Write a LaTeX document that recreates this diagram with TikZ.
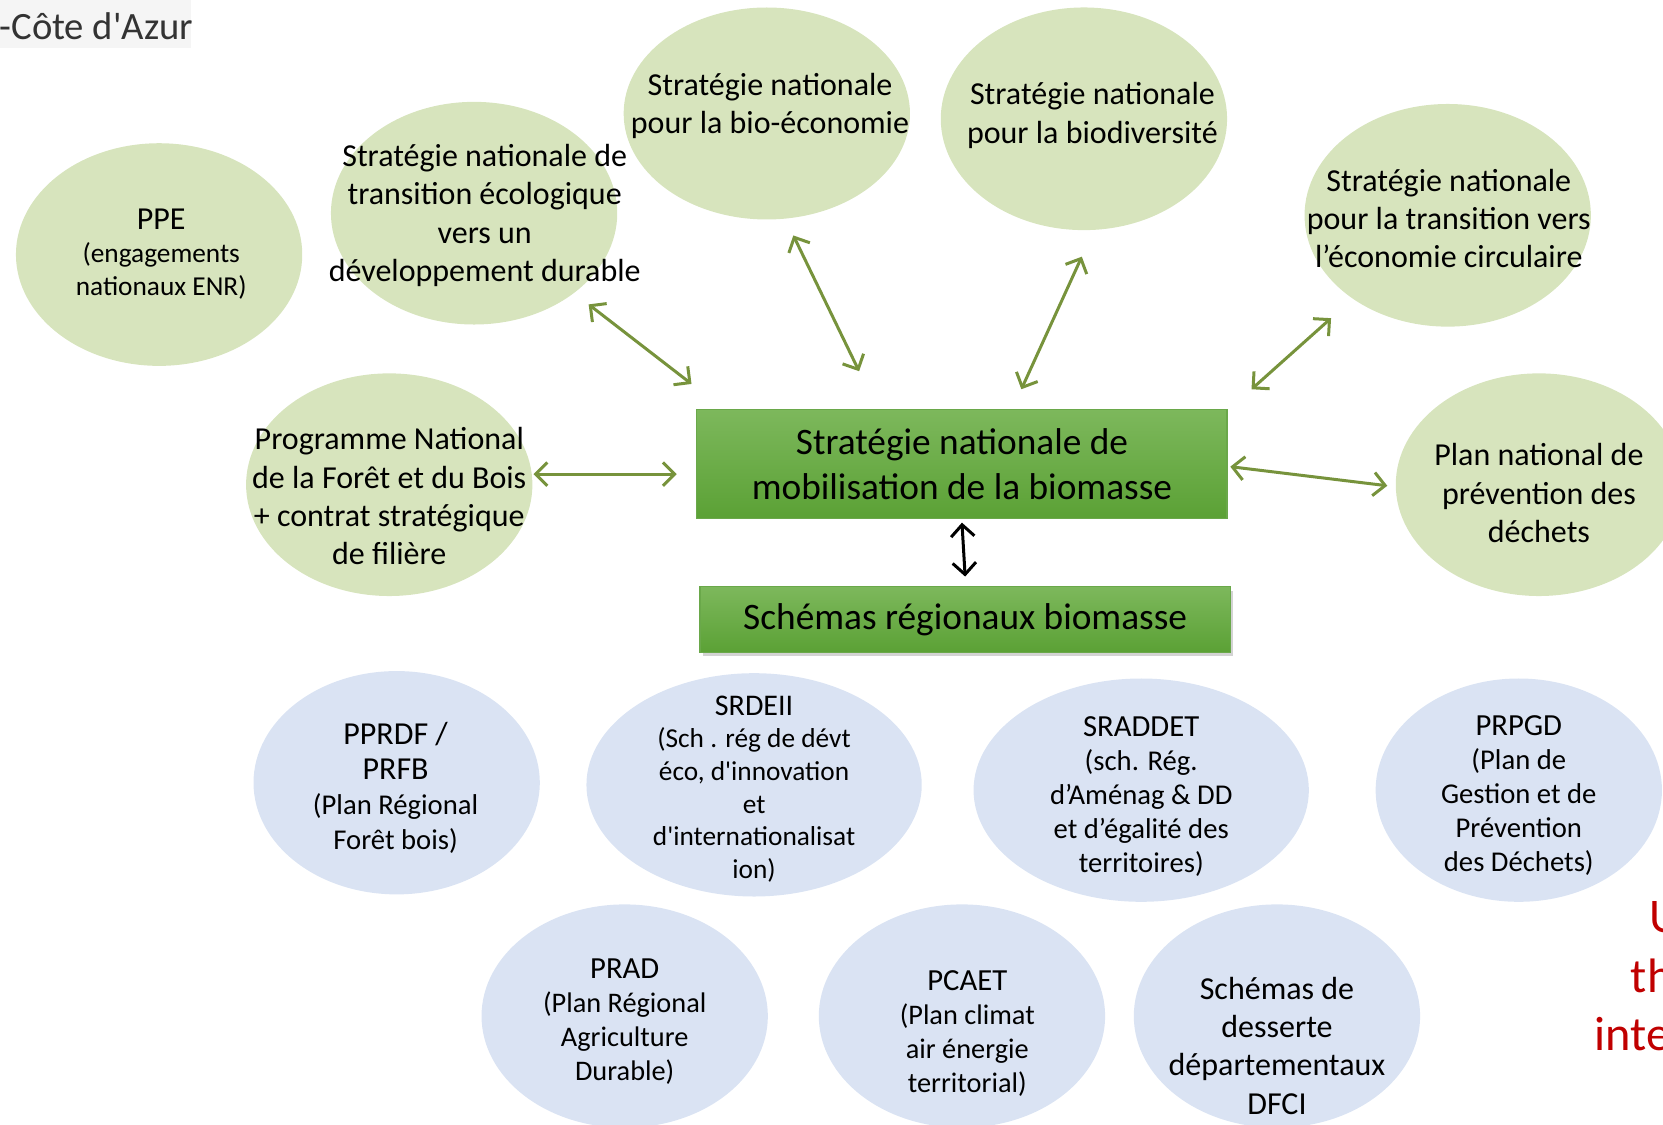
\documentclass[tikz,border=0pt]{standalone}
\usepackage{fontspec}
\setmainfont{Carlito}
\usetikzlibrary{shapes,positioning,arrows.meta,shadows}
\definecolor{leaf}{HTML}{D7E4BD}
\definecolor{sky}{HTML}{DAE3F3}
\definecolor{olive}{HTML}{77933C}
\definecolor{boxtop}{HTML}{7DB85C}
\definecolor{boxbot}{HTML}{5BA135}
\definecolor{boxline}{HTML}{6AA84A}
\definecolor{alert}{HTML}{C00000}

\begin{document}
\begin{tikzpicture}[x=0.3182pt, y=-0.3182pt,
  natl/.style={ellipse, fill=leaf, inner sep=0pt, minimum width=85.9pt, minimum height=66.8pt},
  regl/.style={ellipse, fill=sky, inner sep=0pt, minimum width=85.9pt, minimum height=67pt},
  wide/.style={minimum width=100.6pt},
  txt/.style={align=center, inner sep=0pt, font=\fontsize{9.6}{11.5}\selectfont},
  mainbox/.style={rectangle, draw=boxline, top color=boxtop, bottom color=boxbot, inner sep=0pt,
    align=center, minimum width=159.1pt, font=\fontsize{11.2}{13.4}\selectfont},
  link/.style={olive, line width=0.9pt, {Straight Barb[length=3.5pt,width=7pt]}-{Straight Barb[length=3.5pt,width=7pt]}}]
  \useasboundingbox (0,0) rectangle (1568,1060);

  % corner title
  \fill [black!4] (0,0) rectangle (180,45);
  \node [anchor=west, inner sep=0pt, text=black!80, font=\fontsize{11.6}{13}\selectfont] (region) at (-1,25) {-Côte d\textquotesingle Azur};

  % national level
  \node [natl] (ppe) at (150,240) {};
  \node [txt, font=\fontsize{8.2}{9.9}\selectfont] (ppe-t) at (152,240) {{\fontsize{9.6}{11.5}\selectfont PPE}\\(engagements\\nationaux ENR)};
  \node [natl] (sntedd) at (447,201) {};
  \node [txt] (sntedd-t) at (457,203) {Stratégie nationale de\\transition écologique\\vers un\\développement durable};
  \node [natl, minimum height=63.6pt] (bioeco) at (723,107) {};
  \node [txt] (bioeco-t) at (726,100) {Stratégie nationale\\pour la bio-économie};
  \node [natl] (biodiv) at (1022,112) {};
  \node [txt] (biodiv-t) at (1030,109) {Stratégie nationale\\pour la biodiversité};
  \node [natl] (circ) at (1365,203) {};
  \node [txt] (circ-t) at (1366,206) {Stratégie nationale\\pour la transition vers\\l’économie circulaire};
  \node [natl] (pnfb) at (367,457) {};
  \node [txt] (pnfb-t) at (367,468) {Programme National\\de la Forêt et du Bois\\+ contrat stratégique\\de filière};
  \node [natl] (pnpd) at (1451,457) {};
  \node [txt] (pnpd-t) at (1451,465) {Plan national de\\prévention des\\déchets};

  % central boxes
  \node [mainbox, minimum height=32.8pt] (hub) at (907,437.5) {Stratégie nationale de\\mobilisation de la biomasse};
  \node [mainbox, minimum height=19.7pt, drop shadow={opacity=0.35, shadow xshift=0.8pt, shadow yshift=-1.2pt}] (srb) at (910,584) {\raisebox{-1pt}{Schémas régionaux biomasse}};

  % arrow ends
  \coordinate (sntedd-a) at (555,287);   \coordinate (hub-a) at (652,362);
  \coordinate (bioeco-a) at (748,222);   \coordinate (hub-b) at (810,350);
  \coordinate (biodiv-a) at (1020,242);  \coordinate (hub-c) at (963,367);
  \coordinate (circ-a) at (1255,300);    \coordinate (hub-d) at (1180,367);
  \coordinate (pnfb-a) at (503,447);     \coordinate (hub-e) at (638,447);
  \coordinate (hub-f) at (1160,440);     \coordinate (pnpd-a) at (1308,458);

  \draw [link] (sntedd-a) -- (hub-a);
  \draw [link] (bioeco-a) -- (hub-b);
  \draw [link] (biodiv-a) -- (hub-c);
  \draw [link] (circ-a) -- (hub-d);
  \draw [link] (pnfb-a) -- (hub-e);
  \draw [link] (hub-f) -- (pnpd-a);
  \draw [black, line width=0.9pt, {Straight Barb[length=3.5pt,width=7pt]}-{Straight Barb[length=3.5pt,width=7pt]}]
    ([yshift=-1pt]hub.south) -- ([yshift=2.8pt]srb.north);

  % regional level
  \node [regl] (pprdf) at (374,738) {};
  \node [txt, font=\fontsize{8.6}{10.5}\selectfont] (pprdf-t) at (373,743) {{\fontsize{9.6}{11.5}\selectfont PPRDF /}\\{\fontsize{9.6}{11.5}\selectfont PRFB}\\(Plan Régional\\Forêt bois)};
  \node [regl, wide] (srdeii) at (711,740) {};
  \node [txt, font=\fontsize{8.2}{9.8}\selectfont] (srdeii-t) at (711,744) {{\fontsize{9}{9.8}\selectfont SRDEII}\\(Sch . rég de dévt\\éco, d\textquotesingle innovation\\et\\d\textquotesingle internationalisat\\ion)};
  \node [regl, wide] (sraddet) at (1076,745) {};
  \node [txt, font=\fontsize{8.6}{10.2}\selectfont] (sraddet-t) at (1076,751) {{\fontsize{9.2}{10.2}\selectfont SRADDET}\\(sch. Rég.\\d’Aménag \& DD\\et d’égalité des\\territoires)};
  \node [regl] (prpgd) at (1432,745) {};
  \node [txt, font=\fontsize{8.6}{10.2}\selectfont] (prpgd-t) at (1432,750) {{\fontsize{9.2}{10.2}\selectfont PRPGD}\\(Plan de\\Gestion et de\\Prévention\\des Déchets)};
  \node [regl] (prad) at (589,958) {};
  \node [txt, font=\fontsize{8.5}{10.2}\selectfont] (prad-t) at (589,963) {{\fontsize{9.2}{10.2}\selectfont PRAD}\\(Plan Régional\\Agriculture\\Durable)};
  \node [regl] (pcaet) at (907,958) {};
  \node [txt, font=\fontsize{8.5}{10.2}\selectfont] (pcaet-t) at (912,974) {{\fontsize{9.2}{10.2}\selectfont PCAET}\\(Plan climat\\air énergie\\territorial)};
  \node [regl] (dfci) at (1204,958) {};
  \node [txt] (dfci-t) at (1204,986) {Schémas de\\desserte\\départementaux\\DFCI};

  % cut-off note on the right
  \node [anchor=west, inner sep=0pt, text=alert, font=\fontsize{14.5}{17.5}\selectfont] (note-a) at (1555,865) {U};
  \node [anchor=west, inner sep=0pt, text=alert, font=\fontsize{14.5}{17.5}\selectfont] (note-b) at (1537,920) {th};
  \node [anchor=west, inner sep=0pt, text=alert, font=\fontsize{14.5}{17.5}\selectfont] (note-c) at (1503,975) {inte};
\end{tikzpicture}
\end{document}
